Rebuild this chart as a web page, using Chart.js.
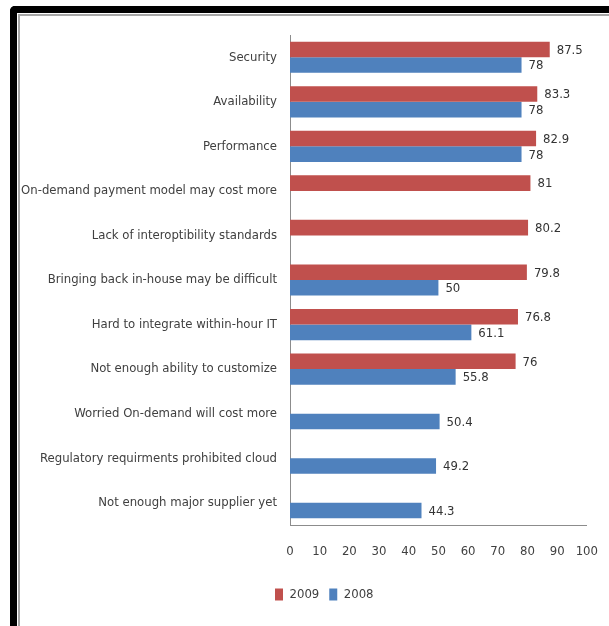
<!DOCTYPE html>
<html>
<head>
<meta charset="utf-8">
<script src="https://cdn.jsdelivr.net/npm/chart.js@4/dist/chart.umd.min.js"></script>
<style>
  html, body { margin: 0; padding: 0; background: #fff; }
  body { width: 609px; height: 626px; position: relative; overflow: hidden; }
  .frame { position: absolute; left: 10px; top: 6px; width: 620px; height: 640px;
           border-left: 7px solid #000; border-top: 7px solid #000; border-top-left-radius: 5px; }
  .inner { position: absolute; left: 18px; top: 14px; width: 620px; height: 640px;
           border-left: 2px solid #a6a6a6; border-top: 2px solid #a6a6a6; }
  .wrap { position: absolute; left: 12px; top: 16px; width: 597px; height: 610px; }
</style>
</head>
<body>
<div class="frame"></div>
<div class="inner"></div>
<div class="wrap"><canvas id="chart"></canvas></div>
<script>
// data
const categorias = [
  'Security',
  'Availability',
  'Performance',
  'On-demand payment model may cost more',
  'Lack of interoptibility standards',
  'Bringing back in-house may be difficult',
  'Hard to integrate within-hour IT',
  'Not enough ability to customize',
  'Worried On-demand will cost more',
  'Regulatory requirments prohibited cloud',
  'Not enough major supplier yet'
];
const valores2009 = [87.5, 83.3, 82.9, 81, 80.2, 79.8, 76.8, 76, null, null, null];
const valores2008 = [78, 78, 78, null, null, 50, 61.1, 55.8, 50.4, 49.2, 44.3];
const ticksX = [0, 10, 20, 30, 40, 50, 60, 70, 80, 90, 100];

const fonte = '"Liberation Sans Narrow", "DejaVu Sans Condensed", sans-serif';

// valores ao lado das barras
const rotulos = {
  id: 'rotulos',
  afterDatasetsDraw(chart) {
    const ctx = chart.ctx;
    ctx.save();
    ctx.font = '13px ' + fonte;
    ctx.fillStyle = '#333';
    ctx.textBaseline = 'middle';
    chart.data.datasets.forEach((ds, i) => {
      chart.getDatasetMeta(i).data.forEach((bar, j) => {
        if (ds.data[j] == null) return;
        ctx.fillText(String(ds.data[j]), bar.x + 7, bar.y + 1);
      });
    });
    ctx.restore();
  }
};

// legenda abaixo do eixo, alinhada perto do início do gráfico
const legendaPos = {
  id: 'legendaPos',
  afterLayout(chart) {
    const lg = chart.legend;
    const w = lg.right - lg.left;
    lg.left = chart.chartArea.left - 25;
    lg.right = lg.left + w;
  }
};

new Chart(document.getElementById('chart'), {
  type: 'bar',
  data: {
    labels: categorias,
    datasets: [
      { label: '2009', data: valores2009, backgroundColor: '#C0504D' },
      { label: '2008', data: valores2008, backgroundColor: '#4F81BD' }
    ]
  },
  options: {
    indexAxis: 'y',
    responsive: true,
    maintainAspectRatio: false,
    animation: false,
    layout: { padding: { top: 19, right: 5, bottom: 15, left: 0 } },
    datasets: { bar: { barPercentage: 1, categoryPercentage: 0.7 } },
    scales: {
      x: {
        min: 0, max: 100,
        afterBuildTicks: s => { s.ticks = ticksX.map(v => ({ value: v })); },
        afterFit: s => { s.height = 53; },
        grid: { display: false },
        border: { display: true, color: '#8c8c8c' },
        ticks: { color: '#404040', font: { family: fonte, size: 13 }, padding: 11,
                 maxRotation: 0, minRotation: 0, autoSkip: false }
      },
      y: {
        afterFit: s => { s.width = 278; },
        grid: { display: false },
        border: { display: true, color: '#8c8c8c' },
        ticks: { color: '#404040', font: { family: fonte, size: 13 }, padding: 5 }
      }
    },
    plugins: {
      legend: {
        position: 'bottom',
        align: 'start',
        labels: {
          boxWidth: 8, boxHeight: 12, padding: 10,
          color: '#404040', font: { family: fonte, size: 13 }
        }
      },
      tooltip: { enabled: false }
    }
  },
  plugins: [rotulos, legendaPos]
});
</script>
</body>
</html>
